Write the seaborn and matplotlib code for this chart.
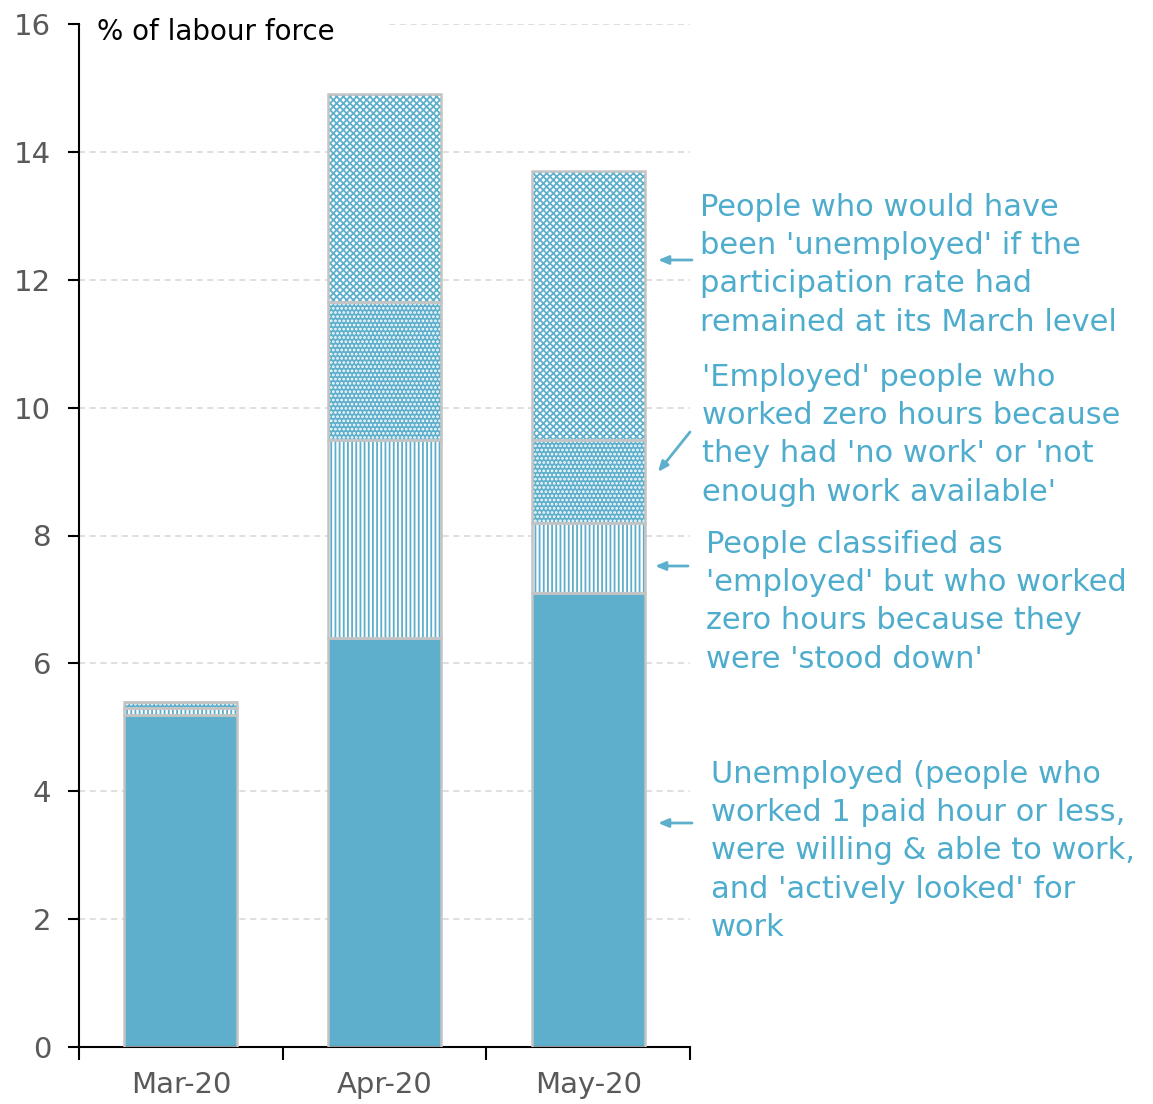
import numpy as np
import pandas as pd
import matplotlib.pyplot as plt
import seaborn as sns
from matplotlib.patches import Rectangle

months = ["Mar-20", "Apr-20", "May-20"]
unemployed = [5.2, 6.4, 7.1]
stood_down = [0.1, 3.1, 1.1]
no_work = [0.1, 2.15, 1.3]
participation = [0.0, 3.25, 4.2]

labels = [
    "People who would have\nbeen 'unemployed' if the\nparticipation rate had\nremained at its March level",
    "'Employed' people who\nworked zero hours because\nthey had 'no work' or 'not\nenough work available'",
    "People classified as\n'employed' but who worked\nzero hours because they\nwere 'stood down'",
    "Unemployed (people who\nworked 1 paid hour or less,\nwere willing & able to work,\nand 'actively looked' for\nwork",
]

blue = "#5eafcc"
text_blue = "#4eaccd"
outline = "#c4c4c4"

sns.set_style("white")
plt.rcParams["font.family"] = ["DejaVu Sans"]
plt.rcParams["hatch.linewidth"] = 1.3

W, H = 1153, 1104
fig = plt.figure(figsize=(W / 100, H / 100), dpi=100)
ax = fig.add_axes([79 / W, 1 - 1047 / H, (690 - 79) / W, (1047 - 24) / H])

df = pd.DataFrame({"month": months, "unemployed": unemployed, "stood_down": stood_down,
                   "no_work": no_work, "participation": participation})
df["b1"] = df["unemployed"]
df["b2"] = df["b1"] + df["stood_down"]
df["b3"] = df["b2"] + df["no_work"]

# layers: (values, bottoms, face, hatch colour, hatch)
layers = [
    (df["unemployed"], 0, blue, blue, None),
    (df["stood_down"], df["b1"], "white", blue, "||||"),
    (df["no_work"], df["b2"], blue, "white", "...."),
    (df["participation"], df["b3"], "white", blue, "xxxxx"),
]
bar_w = 0.555
for vals, bot, face, hcol, hatch in layers:
    sns.barplot(x=df["month"], y=vals, bottom=bot, color=face, edgecolor=hcol,
                saturation=1, linewidth=0, hatch=hatch, width=bar_w, ax=ax, zorder=2)
    sns.barplot(x=df["month"], y=vals, bottom=bot, color=outline, fill=False,
                saturation=1, linewidth=1.8, width=bar_w, ax=ax, zorder=3)

ax.set_ylim(0, 16)
ax.set_xlim(-0.5, 2.5)
ax.set_yticks(range(0, 17, 2))
ax.yaxis.grid(True, color="#d6d6d6", linestyle=(0, (4, 3)), linewidth=1.1, zorder=0)
ax.set_axisbelow(True)
ax.set_xlabel("")
ax.set_ylabel("")

for s in ["top", "right"]:
    ax.spines[s].set_visible(False)
for s in ["left", "bottom"]:
    ax.spines[s].set_color("black")
    ax.spines[s].set_linewidth(1.5)

ax.set_xticks([-0.5, 0.5, 1.5, 2.5], minor=True)
ax.tick_params(axis="x", which="major", bottom=True, length=0, pad=17, labelsize=21,
               labelcolor="#595959")
ax.tick_params(axis="x", which="minor", bottom=True, length=9, width=1.5,
               direction="out", color="black")
ax.tick_params(axis="y", left=True, length=8, width=1.5, direction="out", color="black",
               labelsize=21, labelcolor="#595959", pad=12)

ax.add_patch(Rectangle((0.003, 0.975), (390 - 82) / 611, 0.04, transform=ax.transAxes,
                       facecolor="white", edgecolor="none", zorder=1, clip_on=False))
ax.text((97 - 79) / 611, (1047 - 32) / 1023, "% of labour force", transform=ax.transAxes,
        ha="left", va="center", fontsize=20, color="black", zorder=4)

def fx(px):
    return px / W

def fy(py):
    return 1 - py / H

text_pos = [(700, 193), (702, 363), (706, 530), (711, 760)]
for (px, py), lab in zip(text_pos, labels):
    fig.text(fx(px), fy(py), lab, ha="left", va="top", fontsize=22,
             color=text_blue, linespacing=1.4)

arrows = [((692, 260), (658, 260)), ((690, 432), (658, 472)),
          ((688, 566), (655, 566)), ((692, 823), (658, 823))]
for (x0, y0), (x1, y1) in arrows:
    ax.annotate("", xy=(fx(x1), fy(y1)), xycoords="figure fraction",
                xytext=(fx(x0), fy(y0)), textcoords="figure fraction",
                arrowprops=dict(arrowstyle="-|>,head_length=0.6,head_width=0.25",
                                color=blue, lw=2, shrinkA=0, shrinkB=0))

fig.savefig("out.png", dpi=100)
